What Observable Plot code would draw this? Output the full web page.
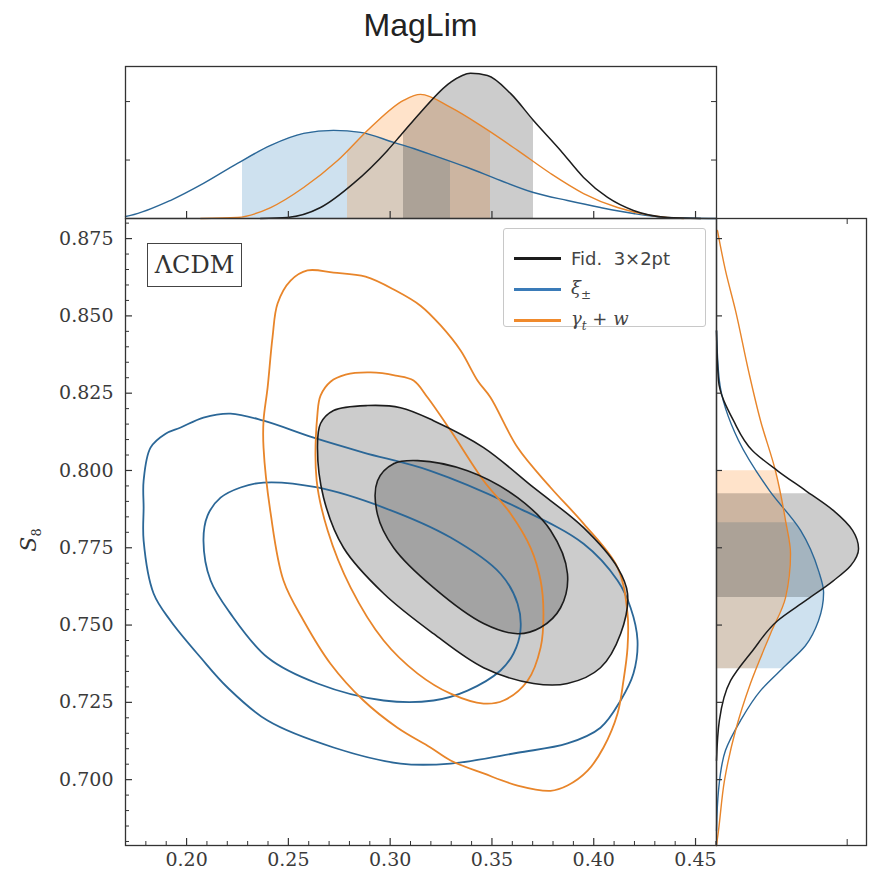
<!DOCTYPE html>
<html><head><meta charset="utf-8">
<script src="https://cdn.jsdelivr.net/npm/d3@7"></script>
<script src="https://cdn.jsdelivr.net/npm/@observablehq/plot@0.6"></script>
<style>
body{margin:0;background:#fff;}
#wrap{position:relative;width:870px;height:874px;overflow:hidden;background:#fff;}
#wrap svg{position:absolute;}
#title{position:absolute;left:0;width:841px;top:9px;text-align:center;font:32px "Liberation Sans",Arial,sans-serif;color:#222;line-height:32px;}
#ylab{position:absolute;left:30px;top:540px;transform:translate(-50%,-50%) rotate(-90deg);font:italic 22px "DejaVu Serif",serif;color:#333;white-space:nowrap;}
#ylab sub{font-style:normal;font-size:13px;}
#lcdm{position:absolute;left:147px;top:243px;width:93px;height:42px;border:1.5px solid #444;font:24px "DejaVu Serif",serif;color:#333;text-align:center;line-height:42px;background:#fff;}
#legend{position:absolute;left:503px;top:228px;width:201px;height:97px;border:1px solid #c8c8c8;border-radius:3px;background:rgba(255,255,255,0.85);}
.lrow{position:absolute;left:10px;height:24px;display:flex;align-items:center;font:18px "DejaVu Sans",sans-serif;color:#444;}
.lrow .sw{width:47px;height:3px;margin-right:10px;}
.mi{font-family:"DejaVu Serif",serif;font-style:italic;}
.lrow sub{font-size:12px;font-style:italic;font-family:"DejaVu Serif",serif;}
</style></head><body><div id="wrap"></div>
<script>
// ---------- data ----------
const xDomain = [0.170, 0.4603];
const yDomain = [0.6787, 0.8815];
const xMajor = [0.20, 0.25, 0.30, 0.35, 0.40, 0.45];
const xMinor = [0.18, 0.19, 0.21, 0.22, 0.23, 0.24, 0.26, 0.27, 0.28, 0.29, 0.31, 0.32, 0.33, 0.34, 0.36, 0.37, 0.38, 0.39, 0.41, 0.42, 0.43, 0.44, 0.46];
const yMajor = [0.700, 0.725, 0.750, 0.775, 0.800, 0.825, 0.850, 0.875];
const yMinor = [0.680, 0.685, 0.690, 0.695, 0.705, 0.710, 0.715, 0.720, 0.730, 0.735, 0.740, 0.745, 0.755, 0.760, 0.765, 0.770, 0.780, 0.785, 0.790, 0.795, 0.805, 0.810, 0.815, 0.820, 0.830, 0.835, 0.840, 0.845, 0.855, 0.860, 0.865, 0.870, 0.880];
const topTicks = [0.4, 0.8];
const rightTicks = [0.92];

// 2D contours [Omega_m, S8]
const blueOuter = [[0.1789,0.7880],[0.1789,0.7967],[0.1823,0.8074],[0.1897,0.8119],[0.1971,0.8139],[0.2083,0.8171],[0.2216,0.8184],[0.2378,0.8161],[0.2624,0.8106],[0.2869,0.8058],[0.3198,0.7999],[0.3626,0.7880],[0.3950,0.7763],[0.4117,0.7644],[0.4181,0.7556],[0.4215,0.7450],[0.4195,0.7343],[0.4132,0.7256],[0.4033,0.7168],[0.3871,0.7117],[0.3626,0.7087],[0.3297,0.7052],[0.3051,0.7052],[0.2722,0.7104],[0.2398,0.7191],[0.2201,0.7298],[0.2069,0.7395],[0.1921,0.7514],[0.1838,0.7602],[0.1789,0.7773]];
const blueInner = [[0.2083,0.7773],[0.2103,0.7854],[0.2167,0.7912],[0.2265,0.7945],[0.2378,0.7961],[0.2643,0.7945],[0.2968,0.7880],[0.3297,0.7783],[0.3542,0.7666],[0.3626,0.7569],[0.3640,0.7482],[0.3606,0.7408],[0.3542,0.7353],[0.3380,0.7288],[0.3213,0.7256],[0.2968,0.7256],[0.2643,0.7311],[0.2398,0.7395],[0.2216,0.7537],[0.2118,0.7644]];
const orangeOuter = [[0.2594,0.8647],[0.2722,0.8640],[0.2879,0.8627],[0.3027,0.8582],[0.3149,0.8533],[0.3248,0.8469],[0.3346,0.8388],[0.3429,0.8291],[0.3493,0.8236],[0.3626,0.8074],[0.3788,0.7945],[0.3950,0.7828],[0.4117,0.7686],[0.4166,0.7537],[0.4166,0.7427],[0.4146,0.7320],[0.4117,0.7214],[0.4048,0.7104],[0.3970,0.7029],[0.3871,0.6981],[0.3788,0.6964],[0.3626,0.6981],[0.3459,0.7020],[0.3297,0.7062],[0.3198,0.7104],[0.3036,0.7168],[0.2869,0.7256],[0.2707,0.7375],[0.2575,0.7514],[0.2476,0.7644],[0.2413,0.7861],[0.2378,0.8074],[0.2378,0.8161],[0.2398,0.8268],[0.2422,0.8430],[0.2447,0.8540],[0.2511,0.8614]];
const orangeInner = [[0.2643,0.8184],[0.2658,0.8242],[0.2707,0.8287],[0.2781,0.8310],[0.2904,0.8317],[0.3027,0.8307],[0.3115,0.8291],[0.3184,0.8236],[0.3297,0.8129],[0.3459,0.7967],[0.3591,0.7861],[0.3690,0.7750],[0.3739,0.7644],[0.3753,0.7537],[0.3739,0.7427],[0.3675,0.7320],[0.3557,0.7256],[0.3459,0.7246],[0.3297,0.7278],[0.3135,0.7343],[0.2968,0.7450],[0.2806,0.7621],[0.2693,0.7806],[0.2639,0.7967]];
const blackOuter = [[0.2643,0.8074],[0.2658,0.8152],[0.2722,0.8194],[0.2889,0.8210],[0.3051,0.8203],[0.3213,0.8161],[0.3459,0.8074],[0.3704,0.7945],[0.3950,0.7815],[0.4117,0.7686],[0.4166,0.7602],[0.4132,0.7472],[0.4033,0.7362],[0.3871,0.7311],[0.3704,0.7311],[0.3459,0.7362],[0.3213,0.7472],[0.2968,0.7602],[0.2771,0.7750],[0.2673,0.7912]];
const blackInner = [[0.2938,0.7967],[0.3017,0.8022],[0.3135,0.8032],[0.3380,0.7999],[0.3626,0.7912],[0.3788,0.7806],[0.3871,0.7666],[0.3837,0.7556],[0.3739,0.7492],[0.3626,0.7472],[0.3459,0.7505],[0.3213,0.7621],[0.3017,0.7750],[0.2938,0.7857]];

// 1D marginals in Omega_m [Omega_m, p]
const omBlue = [[0.1700,0.014],[0.1725,0.021],[0.1920,0.123],[0.2083,0.240],[0.2250,0.377],[0.2413,0.500],[0.2575,0.582],[0.2722,0.603],[0.2855,0.589],[0.3017,0.521],[0.3115,0.479],[0.3213,0.432],[0.3380,0.349],[0.3542,0.260],[0.3704,0.178],[0.3871,0.123],[0.4033,0.075],[0.4195,0.034],[0.4362,0.007],[0.4603,0.0]];
const omOrange = [[0.2069,0.0],[0.2250,0.007],[0.2413,0.075],[0.2575,0.212],[0.2742,0.397],[0.2904,0.623],[0.3066,0.808],[0.3149,0.849],[0.3297,0.760],[0.3459,0.623],[0.3626,0.466],[0.3788,0.308],[0.3950,0.171],[0.4117,0.075],[0.4279,0.021],[0.4441,0.0]];
const omBlack = [[0.2363,0.0],[0.2496,0.007],[0.2658,0.075],[0.2820,0.240],[0.2987,0.466],[0.3051,0.568],[0.3149,0.726],[0.3297,0.932],[0.3395,0.993],[0.3478,0.979],[0.3591,0.856],[0.3704,0.671],[0.3837,0.466],[0.3950,0.281],[0.4068,0.144],[0.4195,0.055],[0.4362,0.007],[0.4525,0.0]];
const omIntervals = {blue: [0.2275, 0.3297], orange: [0.2791, 0.3493], black: [0.3066, 0.3704]};

// 1D marginals in S8 [S8, p]
const s8Blue = [[0.8452,0.0],[0.8291,0.020],[0.8097,0.155],[0.7935,0.373],[0.7806,0.592],[0.7676,0.718],[0.7605,0.754],[0.7514,0.718],[0.7434,0.627],[0.7369,0.486],[0.7288,0.310],[0.7191,0.169],[0.7094,0.063],[0.6964,0.014],[0.6835,0.0]];
const s8Orange = [[0.8776,0.007],[0.8647,0.063],[0.8517,0.134],[0.8323,0.225],[0.8161,0.310],[0.7999,0.415],[0.7838,0.486],[0.7731,0.521],[0.7589,0.486],[0.7472,0.380],[0.7311,0.239],[0.7159,0.134],[0.6997,0.056],[0.6835,0.014],[0.6787,0.0]];
const s8Black = [[0.8452,0.0],[0.8291,0.014],[0.8161,0.120],[0.8064,0.254],[0.7999,0.430],[0.7935,0.627],[0.7870,0.824],[0.7806,0.958],[0.7747,1.0],[0.7692,0.944],[0.7644,0.824],[0.7579,0.627],[0.7514,0.430],[0.7417,0.254],[0.7320,0.099],[0.7191,0.020],[0.7062,0.0]];
const s8Intervals = {blue: [0.7359, 0.7831], orange: [0.7359, 0.7999], black: [0.7589, 0.7925]};

// ---------- styles ----------
const LINE = {blue: "#2b6797", orange: "#e8852a", black: "#1c1c1c"};
const FILL = {blue: "#1f77b4", orange: "#ff7f0e", black: "#000000"};
const AX = "#333";
const baseStyle = {background: "transparent", fontFamily: "DejaVu Serif, serif", fontSize: "19px", color: "#3a3a3a", overflow: "visible"};
const px = d => d[0], py = d => d[1];

const wrap = document.getElementById("wrap");

// ---------- main panel ----------
const MW = 720, MH = 680, mL = 125, mR = 4, mT = 8, mB = 45;
const FW = MW - mL - mR, FH = MH - mT - mB;
const mainPlot = Plot.plot({
  width: MW, height: MH, marginLeft: mL, marginRight: mR, marginTop: mT, marginBottom: mB,
  x: {domain: xDomain, label: null}, y: {domain: yDomain, label: null},
  style: baseStyle,
  marks: [
    Plot.line(blackOuter, {x: px, y: py, curve: "catmull-rom-closed", fill: FILL.black, fillOpacity: 0.2, stroke: "none"}),
    Plot.line(blackInner, {x: px, y: py, curve: "catmull-rom-closed", fill: FILL.black, fillOpacity: 0.2, stroke: "none"}),
    Plot.line(blueOuter, {x: px, y: py, curve: "catmull-rom-closed", stroke: LINE.blue, strokeWidth: 1.8}),
    Plot.line(blueInner, {x: px, y: py, curve: "catmull-rom-closed", stroke: LINE.blue, strokeWidth: 1.8}),
    Plot.line(orangeOuter, {x: px, y: py, curve: "catmull-rom-closed", stroke: LINE.orange, strokeWidth: 1.8}),
    Plot.line(orangeInner, {x: px, y: py, curve: "catmull-rom-closed", stroke: LINE.orange, strokeWidth: 1.8}),
    Plot.line(blackOuter, {x: px, y: py, curve: "catmull-rom-closed", stroke: LINE.black, strokeWidth: 1.6}),
    Plot.line(blackInner, {x: px, y: py, curve: "catmull-rom-closed", stroke: LINE.black, strokeWidth: 1.6}),
    Plot.tickX(xMajor, {x: d => d, insetTop: FH - 7, stroke: AX, strokeWidth: 1.2}),
    Plot.tickX(xMinor, {x: d => d, insetTop: FH - 4, stroke: AX, strokeWidth: 1}),
    Plot.tickY(yMajor, {y: d => d, insetRight: FW - 7, stroke: AX, strokeWidth: 1.2}),
    Plot.tickY(yMinor, {y: d => d, insetRight: FW - 4, stroke: AX, strokeWidth: 1}),
    Plot.frame({stroke: AX, strokeWidth: 1.3}),
    Plot.axisX(xMajor, {tickSize: 0, tickPadding: 7, tickFormat: d3.format(".2f")}),
    Plot.axisY(yMajor, {tickSize: 0, tickPadding: 12, tickFormat: d3.format(".3f")})
  ]
});
mainPlot.style.left = "0px"; mainPlot.style.top = "210px";

// ---------- top marginal ----------
const TW = 720, TH = 165, tT = 8, tB = 5;
const TFH = TH - tT - tB;
const topPlot = Plot.plot({
  width: TW, height: TH, marginLeft: mL, marginRight: mR, marginTop: tT, marginBottom: tB,
  x: {domain: xDomain, label: null, axis: null}, y: {domain: [0, 1.04], label: null, axis: null},
  style: baseStyle,
  marks: [
    Plot.areaY(omBlue, {x: px, y: py, curve: "monotone-x", fill: FILL.blue, fillOpacity: 0.22}),
    Plot.areaY(omOrange, {x: px, y: py, curve: "monotone-x", fill: FILL.orange, fillOpacity: 0.22}),
    Plot.areaY(omBlack, {x: px, y: py, curve: "monotone-x", fill: FILL.black, fillOpacity: 0.2}),
    Plot.line(omBlue, {x: px, y: py, curve: "monotone-x", stroke: LINE.blue, strokeWidth: 1.4}),
    Plot.line(omOrange, {x: px, y: py, curve: "monotone-x", stroke: LINE.orange, strokeWidth: 1.4}),
    Plot.line(omBlack, {x: px, y: py, curve: "monotone-x", stroke: LINE.black, strokeWidth: 1.5}),
    Plot.tickX(xMajor, {x: d => d, insetTop: TFH - 7, stroke: AX, strokeWidth: 1.2}),
    Plot.tickY(topTicks, {y: d => d, insetRight: FW - 5, stroke: AX}),
    Plot.tickY(topTicks, {y: d => d, insetLeft: FW - 5, stroke: AX}),
    Plot.frame({stroke: AX, strokeWidth: 1.3})
  ]
});
topPlot.style.left = "0px"; topPlot.style.top = "58px";

// ---------- right marginal ----------
const RW = 158, rL = 4, rR = 4;
const RFW = RW - rL - rR;
const rightPlot = Plot.plot({
  width: RW, height: MH, marginLeft: rL, marginRight: rR, marginTop: mT, marginBottom: mB,
  x: {domain: [0, 1.056], label: null, axis: null}, y: {domain: yDomain, label: null, axis: null},
  style: baseStyle,
  marks: [
    Plot.areaX(s8Blue, {y: px, x: py, curve: "monotone-y", fill: FILL.blue, fillOpacity: 0.22}),
    Plot.areaX(s8Orange, {y: px, x: py, curve: "monotone-y", fill: FILL.orange, fillOpacity: 0.22}),
    Plot.areaX(s8Black, {y: px, x: py, curve: "monotone-y", fill: FILL.black, fillOpacity: 0.2}),
    Plot.line(s8Blue, {y: px, x: py, curve: "monotone-y", stroke: LINE.blue, strokeWidth: 1.4}),
    Plot.line(s8Orange, {y: px, x: py, curve: "monotone-y", stroke: LINE.orange, strokeWidth: 1.4}),
    Plot.line(s8Black, {y: px, x: py, curve: "monotone-y", stroke: LINE.black, strokeWidth: 1.5}),
    Plot.tickY(yMajor, {y: d => d, insetRight: RFW - 6, stroke: AX, strokeWidth: 1.2}),
    Plot.tickX(rightTicks, {x: d => d, insetTop: FH - 6, stroke: AX}),
    Plot.tickX(rightTicks, {x: d => d, insetBottom: FH - 6, stroke: AX}),
    Plot.frame({stroke: AX, strokeWidth: 1.3})
  ]
});
rightPlot.style.left = "712px"; rightPlot.style.top = "210px";

// ---------- clip the shaded credible intervals via the plot scales ----------
const NS = "http://www.w3.org/2000/svg";
function clipAreas(svg, intervals, dim, idp) {
  const s = svg.scale(dim);
  const areas = svg.querySelectorAll('g[aria-label="area"]');
  const defs = document.createElementNS(NS, "defs");
  svg.insertBefore(defs, svg.firstChild);
  const W = +svg.getAttribute("width"), H = +svg.getAttribute("height");
  intervals.forEach((iv, i) => {
    const a = s.apply(iv[0]), b = s.apply(iv[1]);
    const cp = document.createElementNS(NS, "clipPath");
    cp.setAttribute("id", idp + i);
    const r = document.createElementNS(NS, "rect");
    if (dim === "x") { r.setAttribute("x", Math.min(a, b)); r.setAttribute("width", Math.abs(b - a)); r.setAttribute("y", 0); r.setAttribute("height", H); }
    else { r.setAttribute("y", Math.min(a, b)); r.setAttribute("height", Math.abs(b - a)); r.setAttribute("x", 0); r.setAttribute("width", W); }
    cp.appendChild(r); defs.appendChild(cp);
    if (areas[i]) areas[i].setAttribute("clip-path", `url(#${idp}${i})`);
  });
}
clipAreas(topPlot, [omIntervals.blue, omIntervals.orange, omIntervals.black], "x", "cTop");
clipAreas(rightPlot, [s8Intervals.blue, s8Intervals.orange, s8Intervals.black], "y", "cRight");

wrap.appendChild(topPlot);
wrap.appendChild(mainPlot);
wrap.appendChild(rightPlot);

// ---------- texts ----------
const title = document.createElement("div"); title.id = "title"; title.textContent = "MagLim"; wrap.appendChild(title);
const ylab = document.createElement("div"); ylab.id = "ylab"; ylab.innerHTML = "S<sub>8</sub>"; wrap.appendChild(ylab);
const lcdm = document.createElement("div"); lcdm.id = "lcdm"; lcdm.textContent = "ΛCDM"; wrap.appendChild(lcdm);

const legendItems = [
  {color: LINE.black, html: "Fid.&nbsp; 3×2pt"},
  {color: "#3a7bb8", html: '<span class="mi">ξ</span><sub>±</sub>'},
  {color: "#f08a2c", html: '<span class="mi">γ</span><sub>t</sub>&nbsp;+&nbsp;<span class="mi">w</span>'}
];
const legend = document.createElement("div"); legend.id = "legend";
legendItems.forEach((it, i) => {
  const row = document.createElement("div"); row.className = "lrow";
  row.style.top = (17 + i * 31) + "px";
  row.innerHTML = `<div class="sw" style="background:${it.color}"></div><div>${it.html}</div>`;
  legend.appendChild(row);
});
wrap.appendChild(legend);
</script></body></html>
